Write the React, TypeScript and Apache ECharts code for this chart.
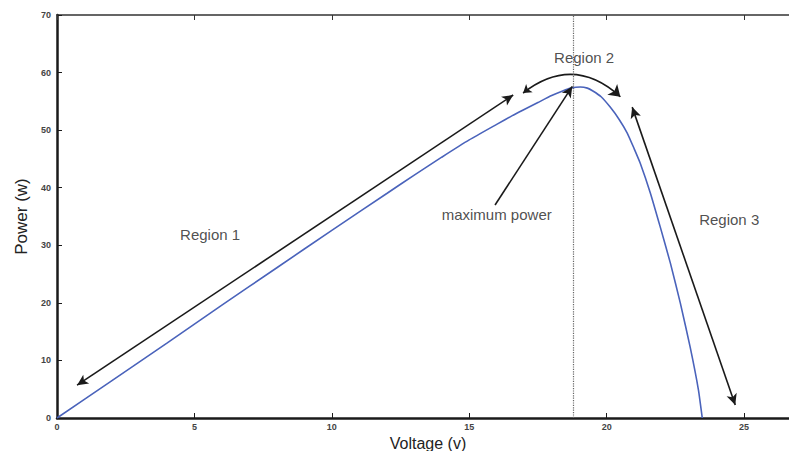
import React, { useEffect, useRef } from "react";
import * as echarts from "echarts";

// PV curve (voltage in V, power in W)
const voltage = [0, 2, 4, 6, 8, 10, 12, 13, 14, 15, 16, 16.6, 17, 17.5, 18, 18.4, 18.7, 19.04, 19.3, 19.5, 19.8, 20.13, 20.45, 20.75, 21.0, 21.22, 21.59, 21.95, 22.32, 22.68, 23.04, 23.34, 23.48];
const power = [0, 6.5, 13, 19.6, 26.1, 32.6, 39.0, 42.2, 45.3, 48.3, 51.0, 52.6, 53.6, 54.8, 56.0, 56.8, 57.3, 57.5, 57.3, 56.8, 55.8, 54.0, 51.9, 49.5, 46.8, 44.3, 39.1, 33.2, 26.9, 20.0, 12.3, 4.9, 0];

const xTicks = [0, 5, 10, 15, 20, 25];
const yTicks = [0, 10, 20, 30, 40, 50, 60, 70];

const vmp = 18.8;

// annotation texts
const labelV = [5.57, 19.18, 16.0, 24.46];
const labelP = [31.8, 62.7, 35.4, 34.4];
const labelText = ["Region 1", "Region 2", "maximum power", "Region 3"];

// arrows: [V1, P1, V2, P2]
const region1Arrow = [0.73, 5.7, 16.6, 56.1];
const region2Arrow = [16.96, 56.45, 20.5, 55.8];
const region3Arrow = [20.93, 54.0, 24.68, 2.26];
const maxPowerArrow = [15.94, 37.0, 18.75, 57.6];

export default function App() {
  const ref = useRef<HTMLDivElement>(null);
  useEffect(() => {
    if (!ref.current) return;
    const chart = echarts.init(ref.current, null, { renderer: "svg" });
    const font = "'Liberation Sans', Arial, Helvetica, sans-serif";
    const arrowStyle = { color: "#1a1a1a", width: 1.6, type: "solid" as const };
    const seg = (a: number[], s0: string, s1: string) => [
      { coord: [a[0], a[1]], symbol: s0 },
      { coord: [a[2], a[3]], symbol: s1 },
    ];
    chart.setOption({
      animation: false,
      backgroundColor: "#ffffff",
      grid: { left: 57, top: 15, right: -10, bottom: 33, outerBoundsMode: "none", containLabel: false },
      xAxis: [
        {
          type: "value",
          min: 0,
          max: 27,
          interval: 5,
          position: "bottom",
          name: "Voltage (v)",
          nameLocation: "middle",
          nameGap: 14,
          nameTextStyle: { fontFamily: font, fontSize: 16, color: "#222" },
          axisLine: { show: true, onZero: false, lineStyle: { color: "#1a1a1a", width: 2.5 } },
          axisTick: { show: true, inside: true, length: 5, lineStyle: { color: "#1a1a1a", width: 1 } },
          axisLabel: {
            fontFamily: font,
            fontSize: 9,
            fontWeight: "bold",
            color: "#444",
            margin: 4,
            showMaxLabel: false,
            formatter: (v: number) => (xTicks.includes(v) ? String(v) : ""),
          },
          splitLine: { show: false },
        },
        {
          type: "value",
          min: 0,
          max: 27,
          interval: 5,
          position: "top",
          axisLine: { show: true, onZero: false, lineStyle: { color: "#333", width: 1.6 } },
          axisTick: { show: true, inside: true, length: 5, lineStyle: { color: "#333", width: 1 } },
          axisLabel: { show: false },
          splitLine: { show: false },
        },
      ],
      yAxis: [
        {
          type: "value",
          min: 0,
          max: 70,
          interval: 10,
          name: "Power (w)",
          nameLocation: "middle",
          nameGap: 26,
          nameRotate: 90,
          nameTextStyle: { fontFamily: font, fontSize: 17, color: "#222" },
          axisLine: { show: true, onZero: false, lineStyle: { color: "#1a1a1a", width: 2.5 } },
          axisTick: { show: true, inside: true, length: 5, lineStyle: { color: "#1a1a1a", width: 1 } },
          axisLabel: {
            fontFamily: font,
            fontSize: 9,
            fontWeight: "bold",
            color: "#444",
            margin: 6,
            formatter: (v: number) => (yTicks.includes(v) ? String(v) : ""),
          },
          splitLine: { show: false },
        },
      ],
      series: [
        {
          type: "line",
          xAxisIndex: 0,
          yAxisIndex: 0,
          data: voltage.map((v, i) => [v, power[i]]),
          showSymbol: false,
          smooth: 0.15,
          lineStyle: { color: "#4a63bb", width: 1.6 },
          z: 3,
          markLine: {
            silent: true,
            symbolSize: [8, 11],
            label: { show: false },
            lineStyle: arrowStyle,
            data: [
              [
                { coord: [vmp, 0], symbol: "none", lineStyle: { color: "#666", width: 1.2, type: "dotted" } },
                { coord: [vmp, 70], symbol: "none" },
              ],
              seg(region1Arrow, "arrow", "arrow"),
              seg(region3Arrow, "arrow", "arrow"),
              seg(maxPowerArrow, "none", "arrow"),
            ],
          },
        },
        {
          type: "lines",
          coordinateSystem: "cartesian2d",
          xAxisIndex: 0,
          yAxisIndex: 0,
          silent: true,
          symbol: ["arrow", "arrow"],
          symbolSize: [8, 11],
          lineStyle: { ...arrowStyle, curveness: 0.42, opacity: 1 },
          data: [
            {
              coords: [
                [region2Arrow[0], region2Arrow[1]],
                [region2Arrow[2], region2Arrow[3]],
              ],
            },
          ],
          z: 4,
        },
        {
          type: "scatter",
          xAxisIndex: 0,
          yAxisIndex: 0,
          symbolSize: 0,
          silent: true,
          data: labelV.map((v, i) => ({ value: [v, labelP[i]], name: labelText[i] })),
          label: {
            show: true,
            position: "inside",
            formatter: (p: any) => p.name,
            fontFamily: font,
            fontSize: 15,
            color: "#222",
          },
          z: 5,
        },
      ],
    });
    return () => chart.dispose();
  }, []);
  return <div ref={ref} style={{ width: 789, height: 451, position: "absolute", left: 0, top: 0 }} />;
}
